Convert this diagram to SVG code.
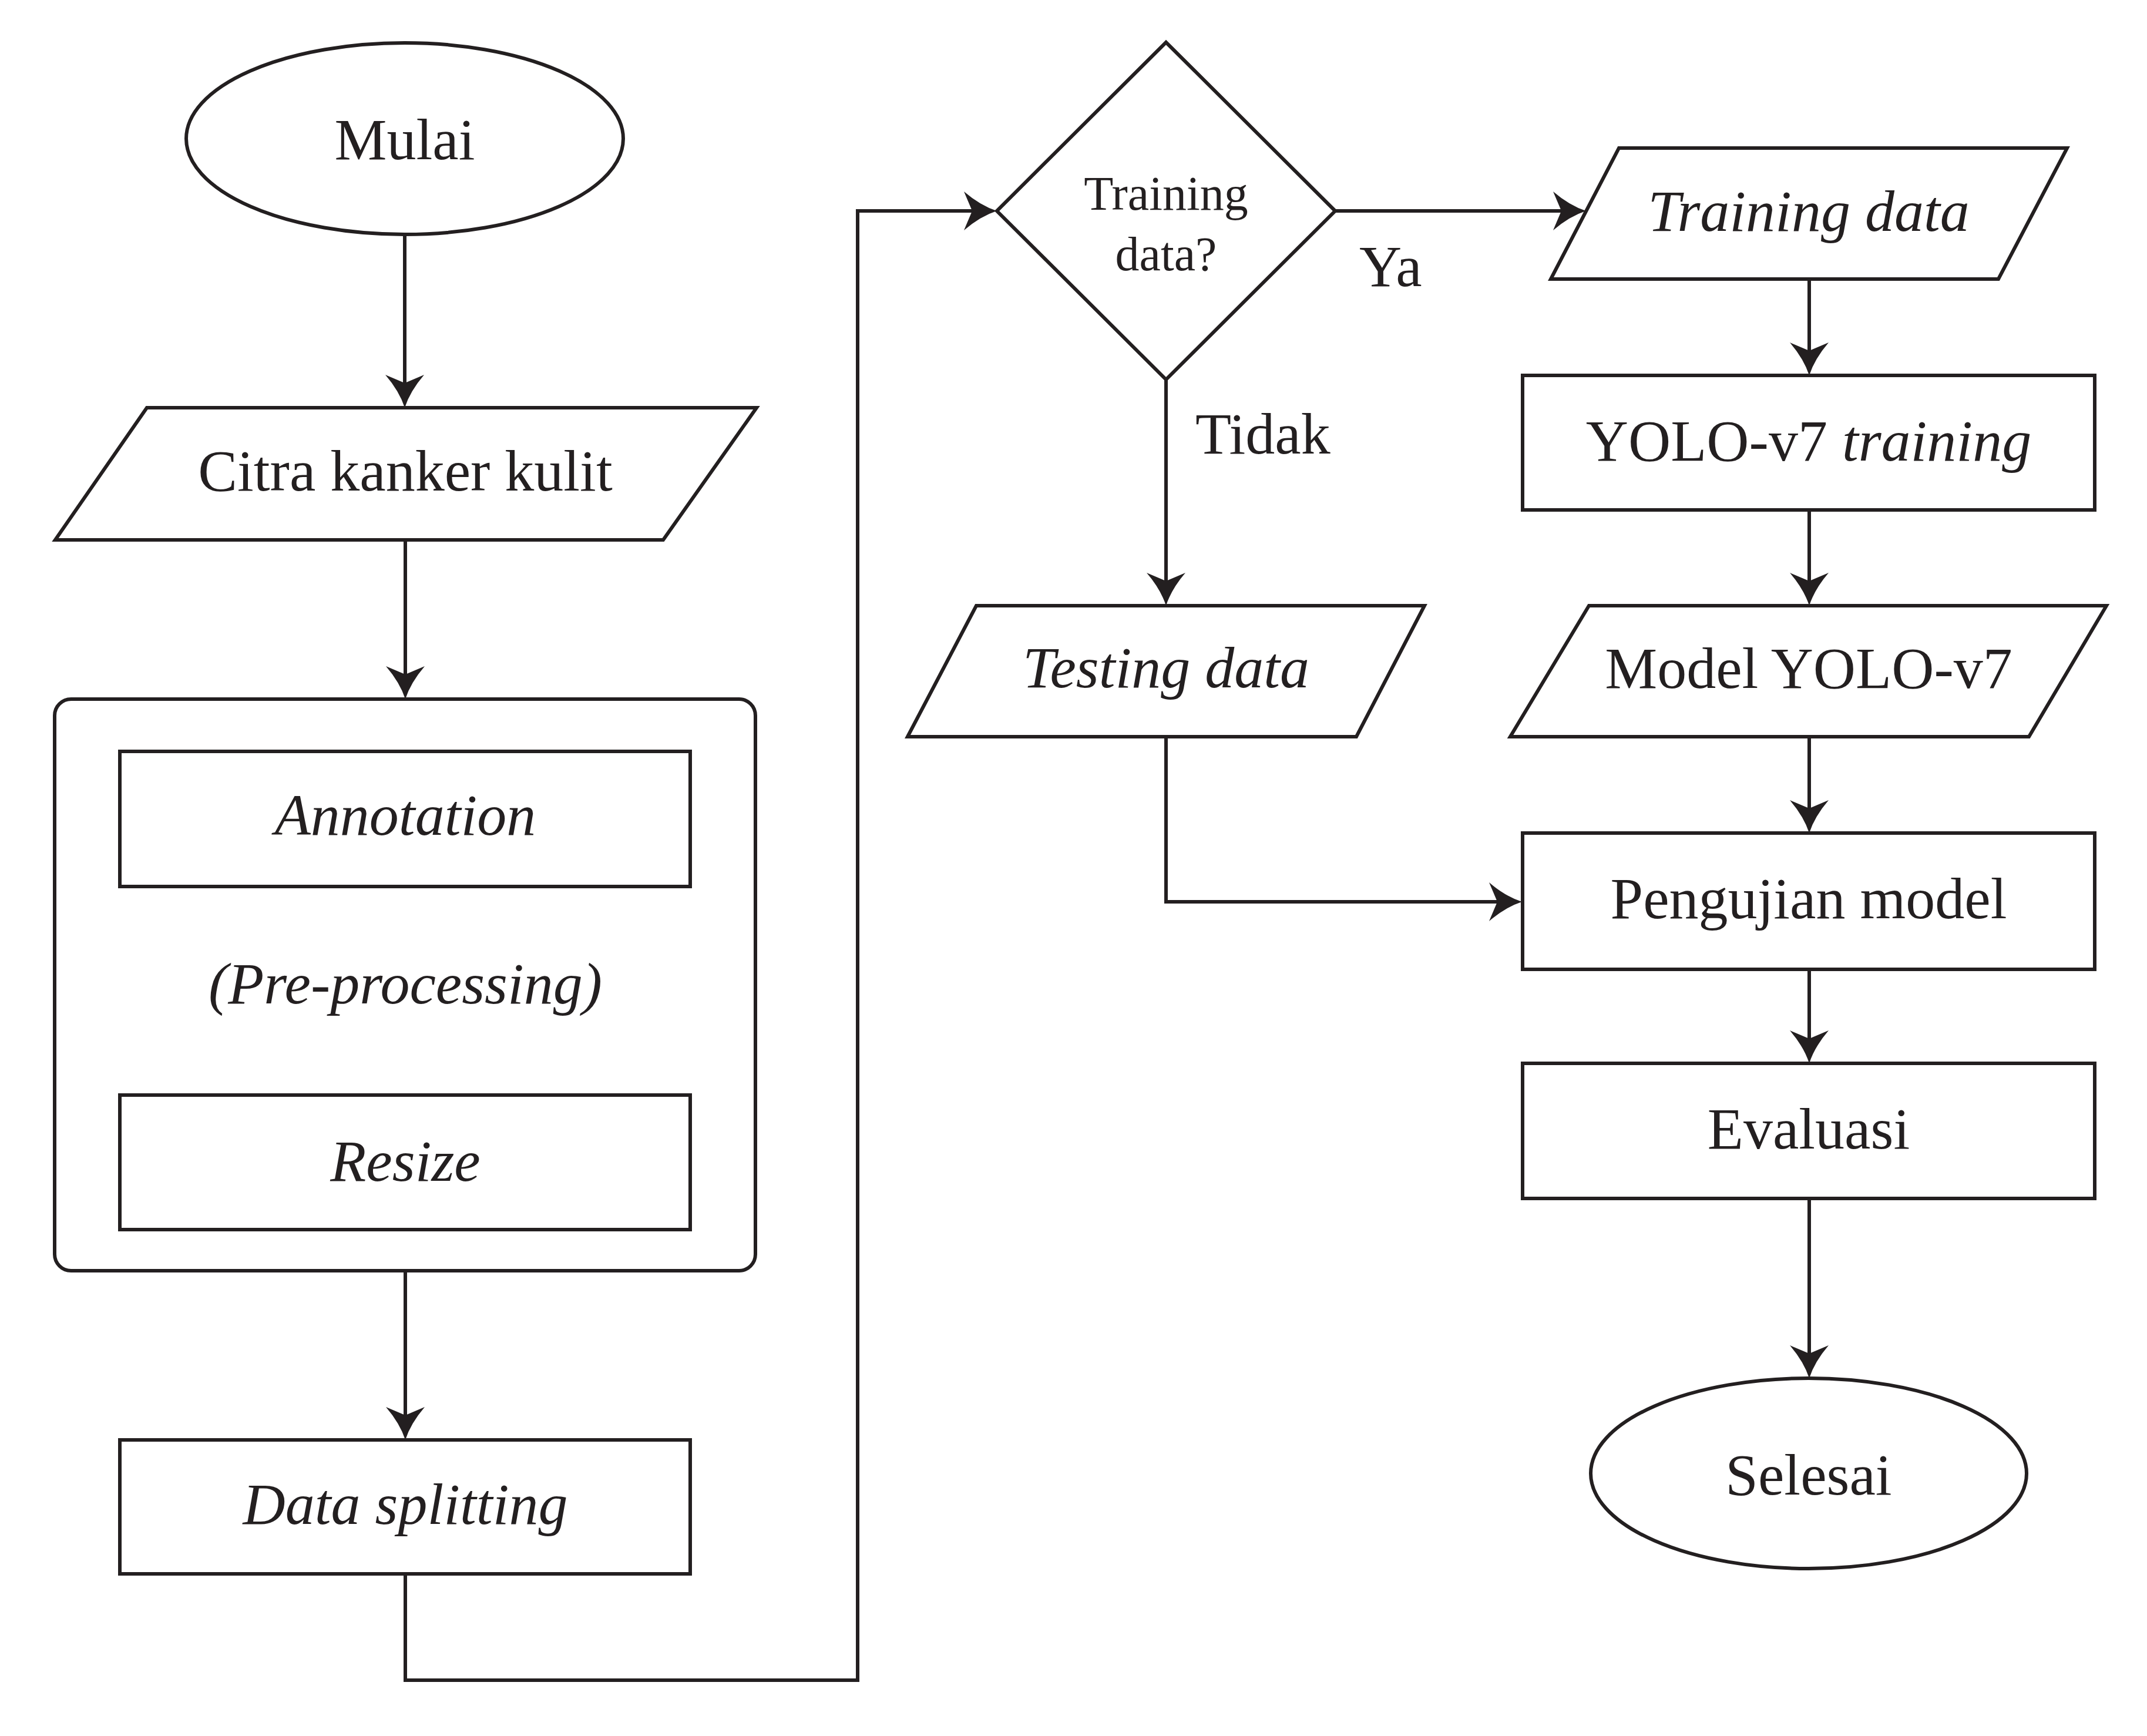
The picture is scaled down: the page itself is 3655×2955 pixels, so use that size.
<svg xmlns="http://www.w3.org/2000/svg" width="3655" height="2955" viewBox="0 0 3655 2955">
<style>
.s{fill:#fff;stroke:#231f20;stroke-width:6}
.c{fill:none;stroke:#231f20;stroke-width:6}
.t{font-family:"Liberation Serif","Times New Roman",serif;font-size:100px;fill:#231f20;text-anchor:middle}
.i{font-style:italic}
.d{font-size:82px}
.l{text-anchor:start}
</style>
<defs>
<marker id="ah" markerUnits="userSpaceOnUse" viewBox="-60 -36 64 72" markerWidth="64" markerHeight="72" refX="-14" refY="0" orient="auto">
<path d="M0,0 Q-28,-9 -56,-33 L-42,0 L-56,33 Q-28,9 0,0 Z" fill="#231f20"/>
</marker>
</defs>
<rect width="3655" height="2955" fill="#fff"/>
<g id="connectors">
<path class="c" d="M689,399 V680" marker-end="url(#ah)"/>
<path class="c" d="M690,919 V1176" marker-end="url(#ah)"/>
<path class="c" d="M690,2163 V2437" marker-end="url(#ah)"/>
<path class="c" d="M690,2679 V2860 H1460 V359 H1683" marker-end="url(#ah)"/>
<path class="c" d="M2273,359 H2686" marker-end="url(#ah)"/>
<path class="c" d="M1985,646 V1017" marker-end="url(#ah)"/>
<path class="c" d="M1985,1254 V1535 H2577" marker-end="url(#ah)"/>
<path class="c" d="M3080,475 V625" marker-end="url(#ah)"/>
<path class="c" d="M3080,868 V1017" marker-end="url(#ah)"/>
<path class="c" d="M3080,1254 V1404" marker-end="url(#ah)"/>
<path class="c" d="M3080,1650 V1796" marker-end="url(#ah)"/>
<path class="c" d="M3080,2040 V2332" marker-end="url(#ah)"/>
</g>
<g id="mulai">
<ellipse class="s" cx="689" cy="236" rx="372" ry="163"/>
<text class="t" x="689" y="271">Mulai</text>
</g>
<g id="citra">
<polygon class="s" points="250,694 1288,694 1129,919 94,919"/>
<text class="t" x="690" y="835">Citra kanker kulit</text>
</g>
<g id="preprocessing">
<rect class="s" x="93" y="1190" width="1193" height="973" rx="28"/>
<text class="t i" x="690" y="1708">(Pre-processing)</text>
</g>
<g id="annotation">
<rect class="s" x="204" y="1279" width="971" height="230"/>
<text class="t i" x="690" y="1421">Annotation</text>
</g>
<g id="resize">
<rect class="s" x="204" y="1864" width="971" height="229"/>
<text class="t i" x="690" y="2010">Resize</text>
</g>
<g id="splitting">
<rect class="s" x="204" y="2451" width="971" height="228"/>
<text class="t i" x="690" y="2594">Data splitting</text>
</g>
<g id="decision">
<polygon class="s" points="1697,359 1985,72 2273,359 1985,646"/>
<text class="t d" x="1985" y="357">Training</text>
<text class="t d" x="1985" y="460">data?</text>
</g>
<g id="labels">
<text class="t l" x="2314" y="487">Ya</text>
<text class="t l" x="2035" y="772">Tidak</text>
</g>
<g id="testing">
<polygon class="s" points="1662,1031 2425,1031 2309,1254 1545,1254"/>
<text class="t i" x="1985" y="1170">Testing data</text>
</g>
<g id="training">
<polygon class="s" points="2756,252 3519,252 3402,475 2640,475"/>
<text class="t i" x="3079" y="393">Training data</text>
</g>
<g id="yolo">
<rect class="s" x="2592" y="639" width="974" height="229"/>
<text class="t" x="3079" y="784">YOLO-v7 <tspan class="i">training</tspan></text>
</g>
<g id="model">
<polygon class="s" points="2705,1031 3586,1031 3454,1254 2571,1254"/>
<text class="t" x="3079" y="1171">Model YOLO-v7</text>
</g>
<g id="pengujian">
<rect class="s" x="2592" y="1418" width="974" height="232"/>
<text class="t" x="3079" y="1563">Pengujian model</text>
</g>
<g id="evaluasi">
<rect class="s" x="2592" y="1810" width="974" height="230"/>
<text class="t" x="3079" y="1955">Evaluasi</text>
</g>
<g id="selesai">
<ellipse class="s" cx="3079" cy="2508" rx="371" ry="162"/>
<text class="t" x="3079" y="2544">Selesai</text>
</g>
</svg>
